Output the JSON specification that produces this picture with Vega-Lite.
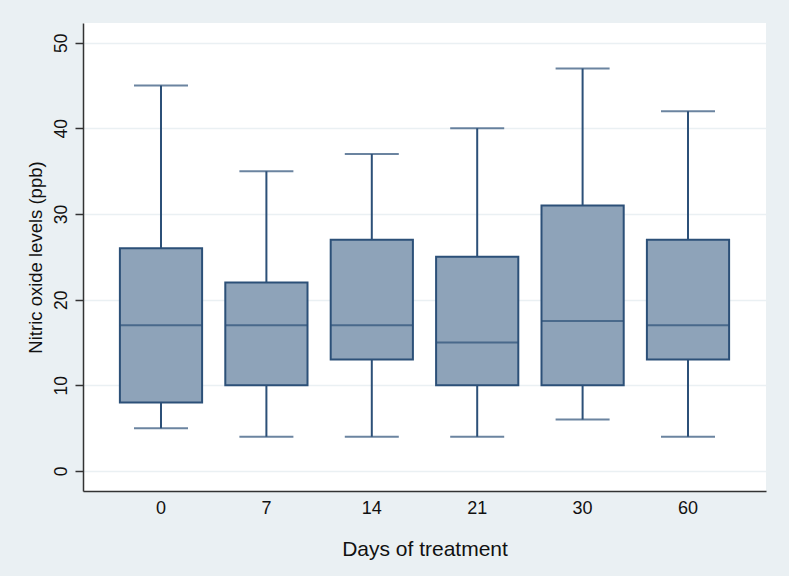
{
  "$schema": "https://vega.github.io/schema/vega-lite/v6.json",
  "autosize": "none",
  "width": 683,
  "height": 468,
  "padding": {"left": 83, "top": 23, "right": 23, "bottom": 85},
  "background": "#eaf0f3",
  "config": {
    "font": "Liberation Sans",
    "view": {"fill": "white", "stroke": null}
  },
  "data": {
    "values": [
      {"day": "0", "min": 5, "q1": 8, "median": 17, "q3": 26, "max": 45},
      {"day": "7", "min": 4, "q1": 10, "median": 17, "q3": 22, "max": 35},
      {"day": "14", "min": 4, "q1": 13, "median": 17, "q3": 27, "max": 37},
      {"day": "21", "min": 4, "q1": 10, "median": 15, "q3": 25, "max": 40},
      {"day": "30", "min": 6, "q1": 10, "median": 17.5, "q3": 31, "max": 47},
      {"day": "60", "min": 4, "q1": 13, "median": 17, "q3": 27, "max": 42}
    ]
  },
  "encoding": {
    "x": {
      "field": "day", "type": "nominal", "sort": null,
      "scale": {"type": "band", "paddingInner": 0.22, "paddingOuter": 0.35},
      "axis": {
        "title": "Days of treatment", "labelAngle": 0, "ticks": false, "domainColor": "#333333", "domainWidth": 1.5,
        "labelFontSize": 18, "labelColor": "#111111", "labelPadding": 8,
        "titleFontSize": 21, "titleFontWeight": "normal", "titleColor": "#111111", "titlePadding": 21,
        "grid": false
      }
    }
  },
  "layer": [
    {
      "mark": {"type": "rule", "color": "#2c5078", "strokeWidth": 2},
      "encoding": {
        "y": {
          "field": "min", "type": "quantitative",
          "scale": {"domain": [-2.34, 52.3], "nice": false, "zero": false},
          "axis": {
            "title": "Nitric oxide levels (ppb)", "values": [0, 10, 20, 30, 40, 50],
            "labelAngle": -90, "labelAlign": "center", "labelBaseline": "bottom",
            "labelFontSize": 17.5, "labelColor": "#111111", "labelPadding": 5,
            "tickSize": 8, "tickColor": "#333333", "tickWidth": 1.5,
            "domainColor": "#333333", "domainWidth": 1.5,
            "grid": true, "gridColor": "#eaf0f3", "gridWidth": 1.5,
            "titleFontSize": 18.5, "titleFontWeight": "normal", "titleColor": "#111111", "titlePadding": 7
          }
        },
        "y2": {"field": "max"}
      }
    },
    {
      "mark": {"type": "tick", "color": "#2c5078", "thickness": 2, "size": 54},
      "encoding": {"y": {"field": "min", "type": "quantitative"}}
    },
    {
      "mark": {"type": "tick", "color": "#2c5078", "thickness": 2, "size": 54},
      "encoding": {"y": {"field": "max", "type": "quantitative"}}
    },
    {
      "mark": {"type": "bar", "fill": "#8ea3b9", "stroke": "#2c5078", "strokeWidth": 2},
      "encoding": {
        "y": {"field": "q1", "type": "quantitative"},
        "y2": {"field": "q3"}
      }
    },
    {
      "mark": {"type": "tick", "color": "#2c5078", "thickness": 2, "size": 82},
      "encoding": {"y": {"field": "median", "type": "quantitative"}}
    }
  ]
}
